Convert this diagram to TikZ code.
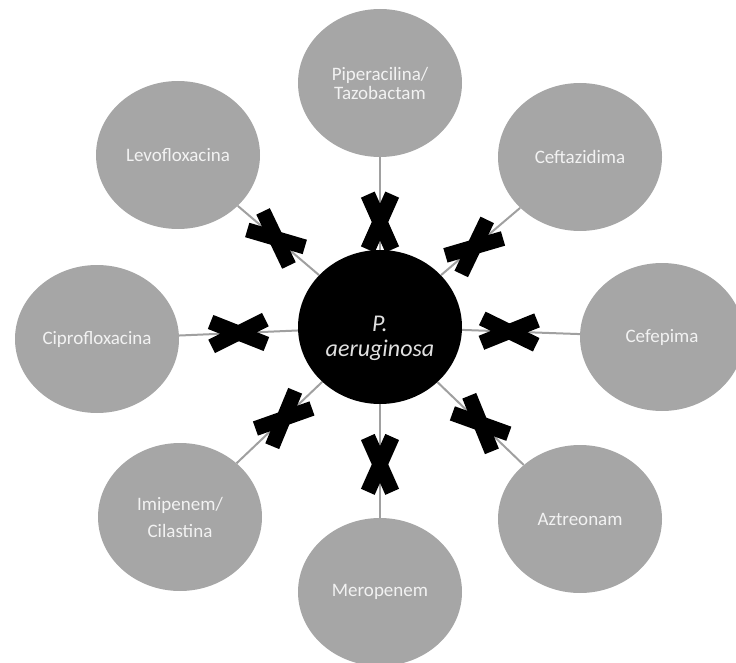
\documentclass[tikz,border=0pt]{standalone}
\usepackage{fontspec}
\setmainfont{Carlito}
\usetikzlibrary{shapes.geometric}
\definecolor{druggray}{HTML}{A6A6A6}
\definecolor{drugtext}{HTML}{F2F2F2}
\definecolor{linkgray}{HTML}{A0A0A0}
\tikzset{
    drug/.style={ellipse, fill=druggray, text=drugtext, inner sep=0pt,
        minimum width=164pt, minimum height=148pt, align=center,
        font=\fontsize{19}{19}\selectfont},
    bug/.style={ellipse, fill=black, text=black!12, inner sep=0pt,
        minimum width=164pt, minimum height=154pt,
        font=\itshape\fontsize{24}{25}\selectfont},
    link/.style={draw=linkgray, line width=2pt},
    pics/xmark/.style={code={
        \fill[black, rotate=24] (-30,-7.5) rectangle (30,7.5);
        \fill[black, rotate=-24] (-30,-7.5) rectangle (30,7.5);
    }}
}
\begin{document}
\begin{tikzpicture}[x=1pt, y=-1pt]
    \useasboundingbox (0,0) rectangle (736,663);
    % 中心
    \node[bug] (c) at (380, 327)
        {\raisebox{-18pt}[0pt][0pt]{\begin{tabular}{@{}c@{}}P.\\aeruginosa\end{tabular}}};

    % 抗生素
    \node[drug] (pip) at (380, 83) {Piperacilina/\\Tazobactam};
    \node[drug] (cef) at (580, 157) {Ceftazidima};
    \node[drug] (cfp) at (662, 337) {Cefepima};
    \node[drug] (azt) at (580, 519) {Aztreonam};
    \node[drug] (mer) at (380, 592) {Meropenem};
    \node[drug] (imi) at (180, 517) {Imipenem/\\[8pt]Cilastina};
    \node[drug] (cip) at (97, 339) {Ciprofloxacina};
    \node[drug] (lev) at (178, 155) {Levofloxacina};

    % 连线与叉号
    \foreach \d/\p in {pip/0.3, cef/0.42, cfp/0.4, azt/0.5, mer/0.53, imi/0.45, cip/0.5, lev/0.53} {
        \draw[link] (c) -- (\d);
        \path (c) -- pic[pos=\p, sloped]{xmark} (\d);
    }
\end{tikzpicture}
\end{document}
